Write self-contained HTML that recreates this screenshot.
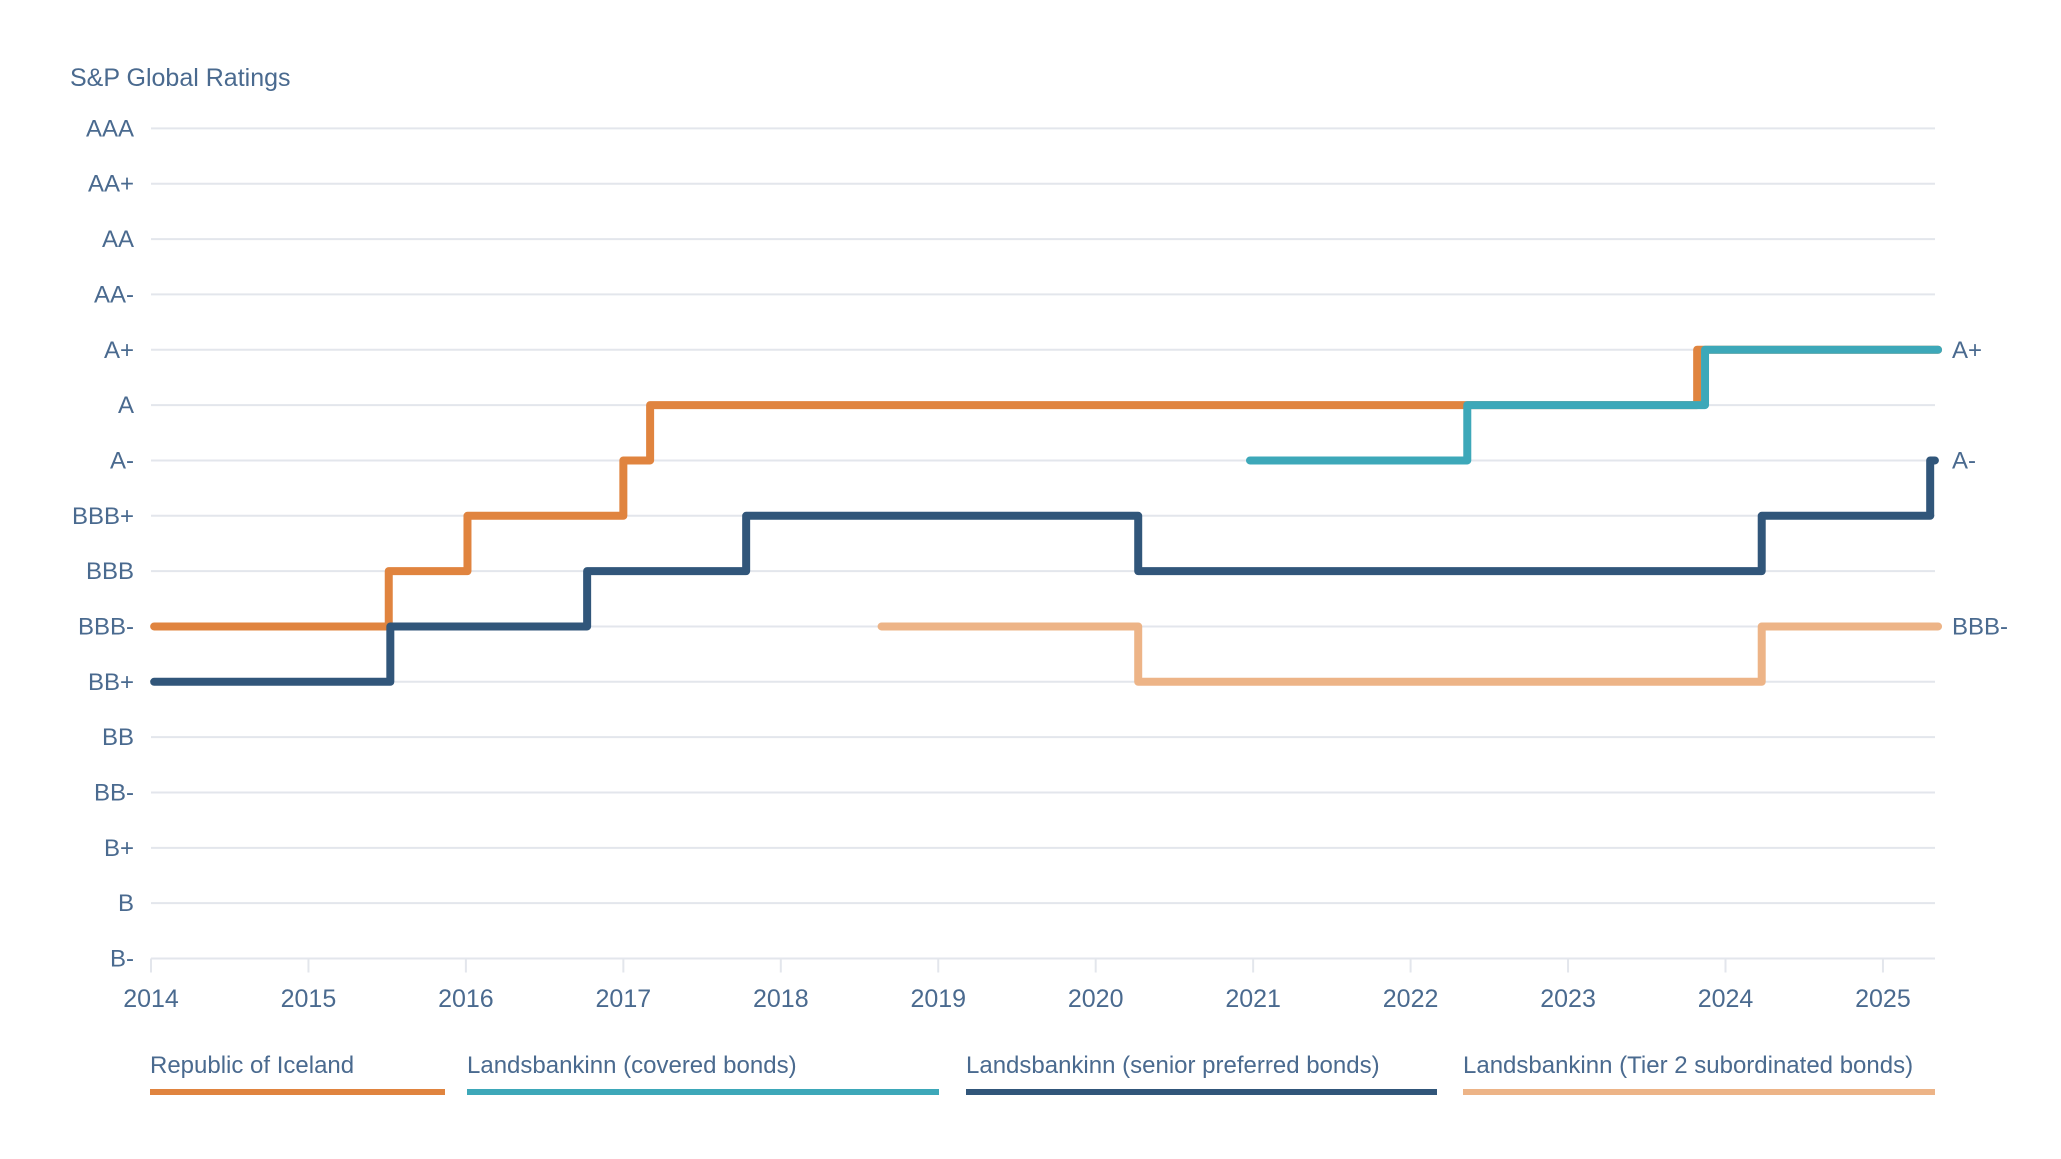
<!DOCTYPE html>
<html><head><meta charset="utf-8"><style>
body{margin:0;background:#fff;}
svg{display:block;font-family:"Liberation Sans",sans-serif;}
</style></head><body>
<svg id="chart" width="2061" height="1159" viewBox="0 0 2061 1159">
<text x="70" y="86" font-size="25" fill="#4a6a8f">S&amp;P Global Ratings</text>
<g id="grid"></g><g id="series"></g><g id="legend"></g>
</svg>
<script>
const ratings=["AAA","AA+","AA","AA-","A+","A","A-","BBB+","BBB","BBB-","BB+","BB","BB-","B+","B","B-"];
const years=[2014,2015,2016,2017,2018,2019,2020,2021,2022,2023,2024,2025];
const seriesNames=["Republic of Iceland","Landsbankinn (covered bonds)","Landsbankinn (senior preferred bonds)","Landsbankinn (Tier 2 subordinated bonds)"];
const colors=["#e0843f","#3da8b9","#31567a","#edb487"];
const icelandDates=[2014.02,2015.51,2016.01,2017.0,2017.17,2023.82,2025.35];
const icelandRatings=["BBB-","BBB","BBB+","A-","A","A+","A+"];
const coveredDates=[2020.98,2022.36,2023.87,2025.35];
const coveredRatings=["A-","A","A+","A+"];
const seniorDates=[2014.02,2015.52,2016.77,2017.78,2020.27,2024.23,2025.3,2025.33];
const seniorRatings=["BB+","BBB-","BBB","BBB+","BBB","BBB+","A-","A-"];
const tier2Dates=[2018.64,2020.27,2024.23,2025.35];
const tier2Ratings=["BBB-","BB+","BBB-","BBB-"];
const endLabels=["A+","A-","BBB-"];
const endLabelRatings=["A+","A-","BBB-"];

const X0=151,X1=1935,yearW=157.45,Y0=128.4,stepY=55.34;
const xs=v=>X0+(v-2014)*yearW;
const ys=r=>Y0+ratings.indexOf(r)*stepY;
const NS="http://www.w3.org/2000/svg";
function mk(t,a,p){const e=document.createElementNS(NS,t);for(const k in a)e.setAttribute(k,a[k]);p.appendChild(e);return e;}
const grid=document.getElementById("grid"),ser=document.getElementById("series"),leg=document.getElementById("legend");
ratings.forEach(r=>{
  const l=mk("line",{x1:X0,x2:X1,y1:ys(r),y2:ys(r),stroke:"#e3e6ec","stroke-width":2},grid);
  
  
  const t=mk("text",{x:134,y:ys(r)+8,"font-size":24,fill:"#4a6a8f","text-anchor":"end"},grid);
  t.textContent=r;
  
  
});
years.forEach(y=>{
  const tk=mk("line",{x1:xs(y),x2:xs(y),y1:ys("B-"),y2:ys("B-")+14,stroke:"#e3e6ec","stroke-width":2},grid);
  
  
  const t=mk("text",{x:xs(y),y:1007,"font-size":25,fill:"#4a6a8f","text-anchor":"middle"},grid);
  t.textContent=y;
  
  
});
function step(d,r,c,name){
  let p="M"+xs(d[0])+","+ys(r[0]);
  for(let i=1;i<d.length;i++){p+=" H"+xs(d[i])+" V"+ys(r[i]);}
  const e=mk("path",{d:p,fill:"none",stroke:c,"stroke-width":8,"stroke-linecap":"round","stroke-linejoin":"round"},ser);
  
  
}
step(icelandDates,icelandRatings,colors[0],"iceland-line");
step(coveredDates,coveredRatings,colors[1],"covered-bonds-line");
step(seniorDates,seniorRatings,colors[2],"senior-bonds-line");
step(tier2Dates,tier2Ratings,colors[3],"tier2-bonds-line");
endLabels.forEach((l,i)=>{
  const t=mk("text",{x:1952,y:ys(endLabelRatings[i])+8,"font-size":24,fill:"#4a6a8f"},ser);
  t.textContent=l;
  
  
});
const lx=[150,467,966,1463],lx2=[445,939,1437,1935];
seriesNames.forEach((n,i)=>{
  const t=mk("text",{x:lx[i],y:1073,"font-size":24,fill:"#4a6a8f"},leg);
  t.textContent=n;
  
  
  const l=mk("line",{x1:lx[i],x2:lx2[i],y1:1092,y2:1092,stroke:colors[i],"stroke-width":6},leg);
  
  
});
</script>
</body></html>
